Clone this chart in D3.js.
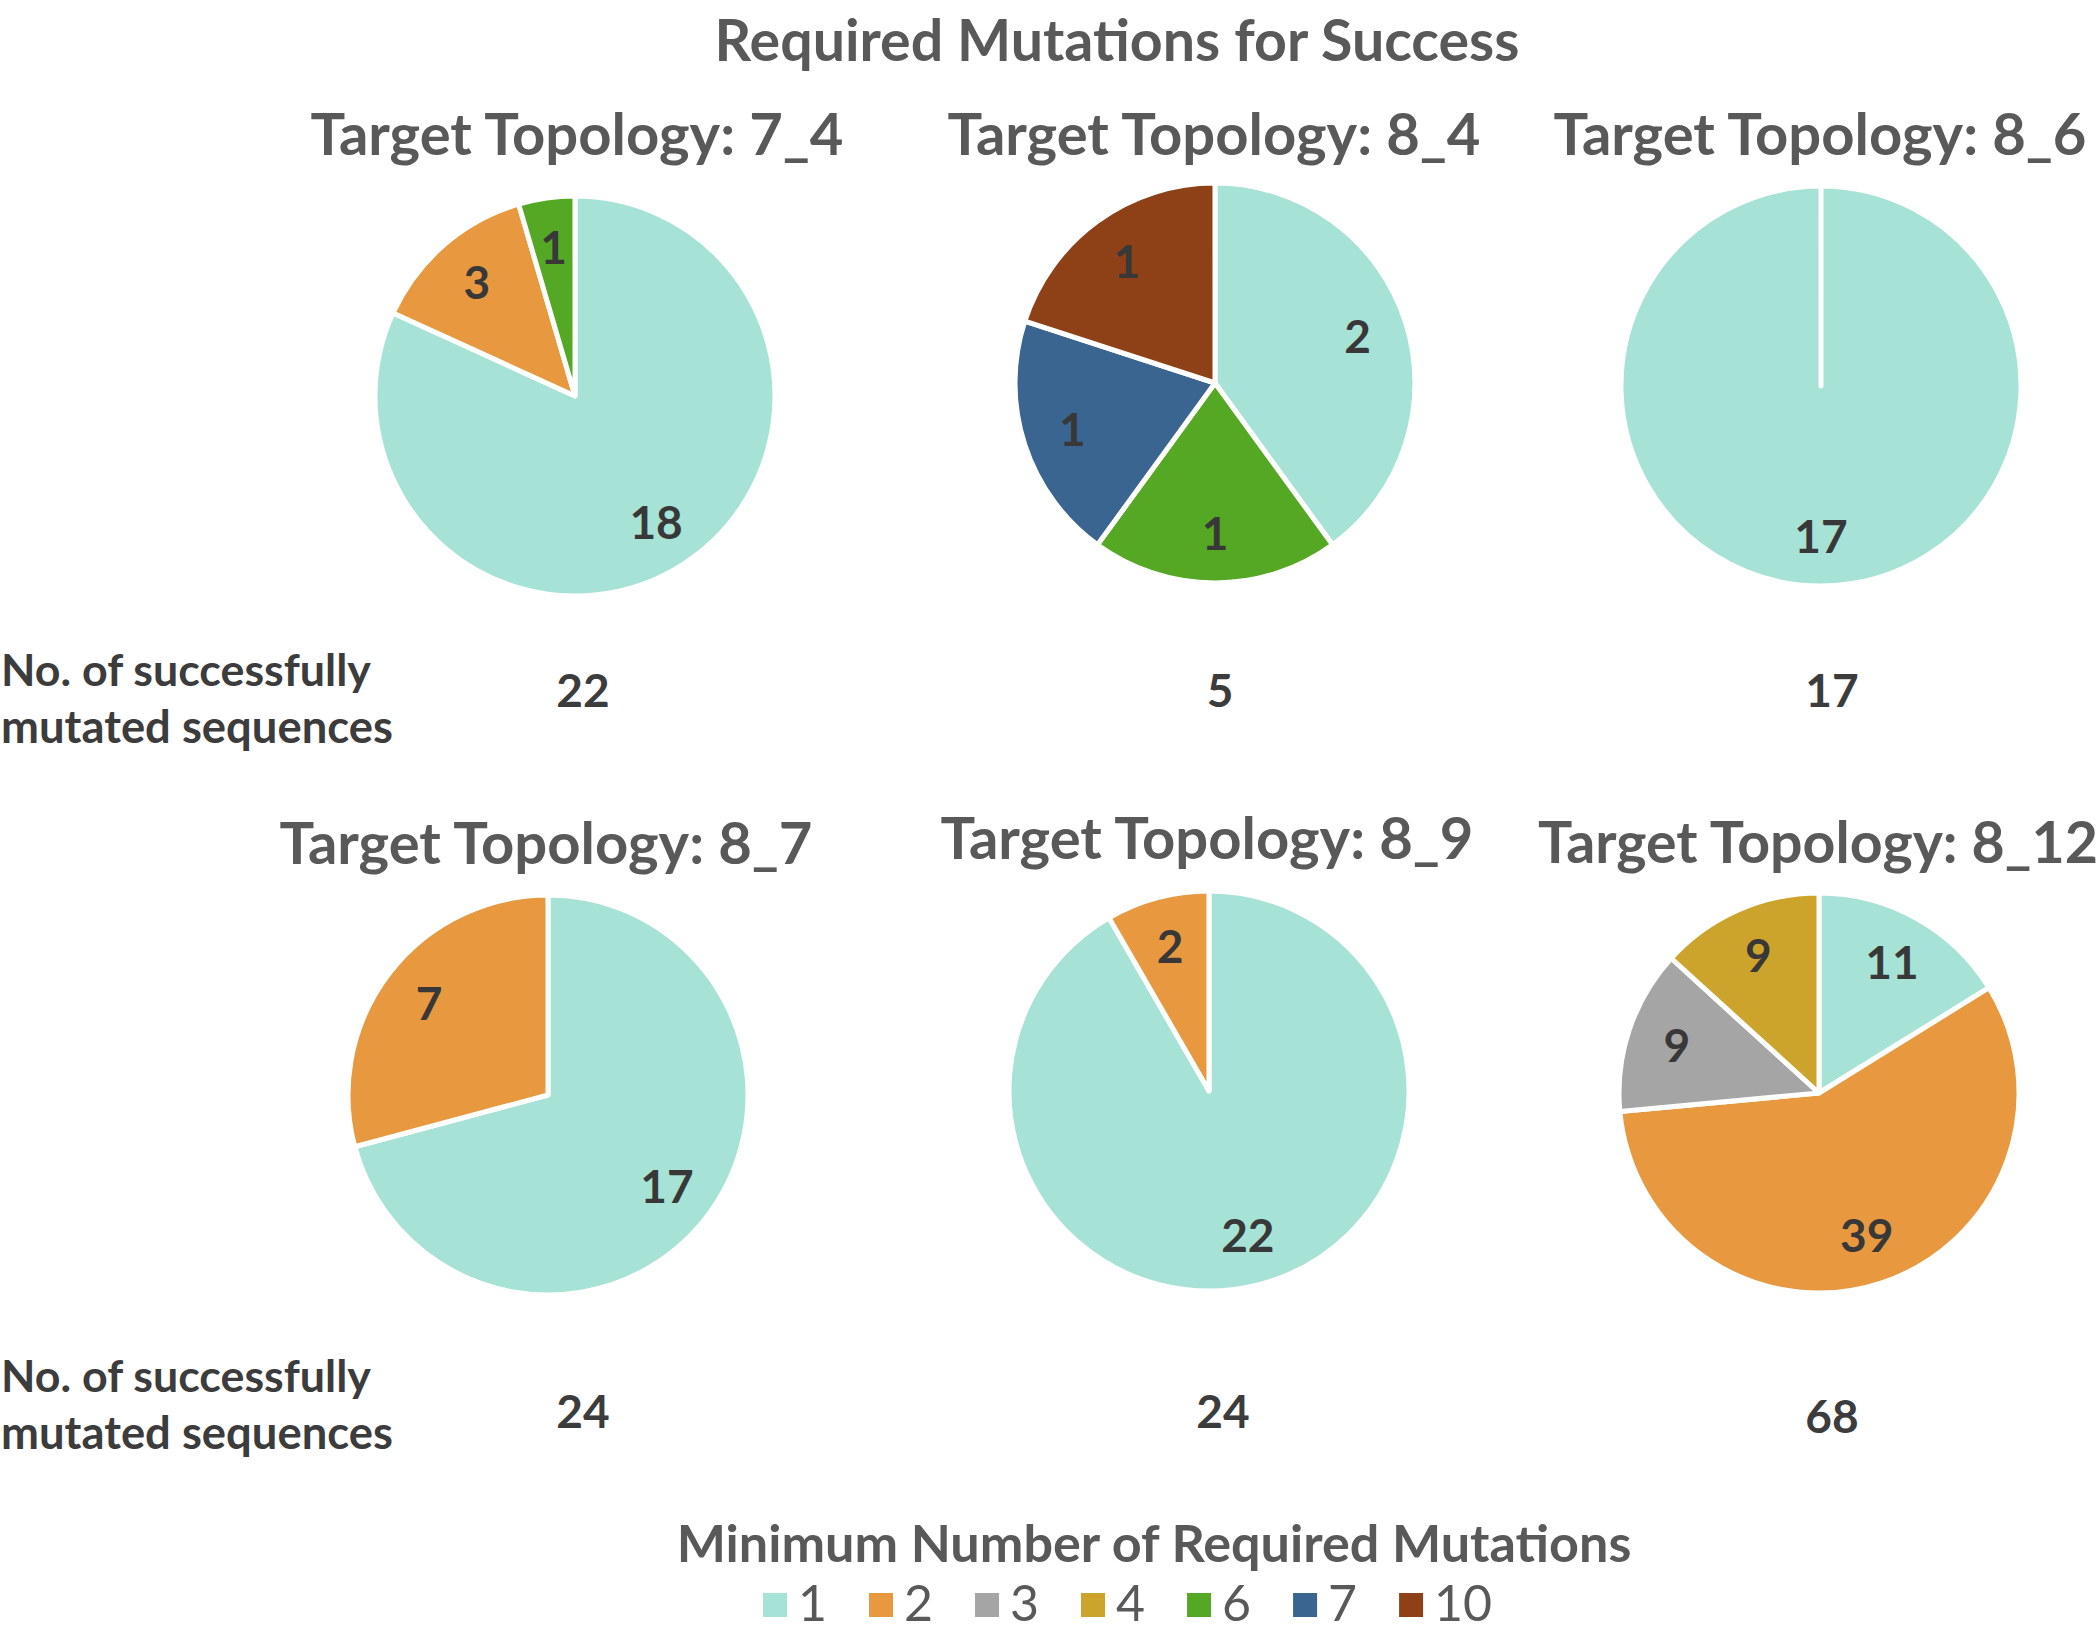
<!DOCTYPE html>
<html><head><meta charset="utf-8">
<script src="https://cdn.jsdelivr.net/npm/d3@7"></script>
<style>body{margin:0;background:#fff} svg{display:block}</style>
</head><body>
<script>
// ---- data ----
const categories = ["1", "2", "3", "4", "6", "7", "10"];
const topologies = ["7_4", "8_4", "8_6", "8_7", "8_9", "8_12"];
const counts_7_4  = [18, 3, 0, 0, 1, 0, 0];
const counts_8_4  = [2, 0, 0, 0, 1, 1, 1];
const counts_8_6  = [17, 0, 0, 0, 0, 0, 0];
const counts_8_7  = [17, 7, 0, 0, 0, 0, 0];
const counts_8_9  = [22, 2, 0, 0, 0, 0, 0];
const counts_8_12 = [11, 39, 9, 9, 0, 0, 0];
const totals = [22, 5, 17, 24, 24, 68];
const rowLabel = ["No. of successfully", "mutated sequences"];
const chartTitle = "Required Mutations for Success";
const legendTitle = "Minimum Number of Required Mutations";

const seriesByTopology = [counts_7_4, counts_8_4, counts_8_6, counts_8_7, counts_8_9, counts_8_12];

// ---- layout ----
const W = 2100, H = 1633;
const panels = [
  {cx: 575, cy: 396, tx: 577, ty: 155, totX: 583, totY: 707},
  {cx: 1215, cy: 383, tx: 1214, ty: 155, totX: 1220, totY: 707},
  {cx: 1821, cy: 386, tx: 1820, ty: 155, totX: 1832, totY: 707},
  {cx: 548, cy: 1095, tx: 546, ty: 864, totX: 583, totY: 1428},
  {cx: 1209, cy: 1091, tx: 1207, ty: 859, totX: 1223, totY: 1428},
  {cx: 1819, cy: 1093, tx: 1818, ty: 863, totX: 1832, totY: 1433}
];
const R = 200;
const FONT = "Lato, 'Open Sans', sans-serif";

const color = d3.scaleOrdinal()
  .domain(categories)
  .range(["#a6e3d6", "#e8993f", "#a5a5a5", "#cca42c", "#55a823", "#3a6591", "#8e4117"]);

const svg = d3.select("body").append("svg")
  .attr("width", W).attr("height", H)
  .style("background", "#fff");

function fit(sel, w) {
  const fs = parseFloat(sel.attr("font-size"));
  const l = sel.node().getComputedTextLength();
  sel.attr("font-size", fs * w / l);
  return sel;
}

// main title
fit(svg.append("text")
  .attr("x", 1117).attr("y", 61)
  .attr("text-anchor", "middle")
  .attr("font-family", FONT).attr("font-weight", 700)
  .attr("font-size", 54).attr("fill", "#595959")
  .text(chartTitle), 805);

const pie = d3.pie().sort(null).value(d => d.v).endAngle(2 * Math.PI - 1e-4);
const arc = d3.arc().innerRadius(0).outerRadius(R);
const labelArc = d3.arc().innerRadius(R * 0.75).outerRadius(R * 0.75);

topologies.forEach((t, i) => {
  const p = panels[i];
  const data = categories.map((c, j) => ({c, v: seriesByTopology[i][j]})).filter(d => d.v > 0);
  const g = svg.append("g").attr("transform", `translate(${p.cx},${p.cy})`);
  const arcs = pie(data);
  g.selectAll("path").data(arcs).join("path")
    .attr("d", arc)
    .attr("fill", d => color(d.data.c))
    .attr("stroke", "#fff")
    .attr("stroke-width", 5)
    .attr("stroke-linejoin", "round");
  g.selectAll("text").data(arcs).join("text")
    .attr("transform", d => `translate(${labelArc.centroid(d)})`)
    .attr("text-anchor", "middle")
    .attr("dy", "0.36em")
    .attr("font-family", FONT).attr("font-weight", 700)
    .attr("font-size", 46).attr("fill", "#383838")
    .text(d => d.data.v);

  // subtitle
  fit(svg.append("text")
    .attr("x", p.tx).attr("y", p.ty)
    .attr("text-anchor", "middle")
    .attr("font-family", FONT).attr("font-weight", 700)
    .attr("font-size", 56).attr("fill", "#595959")
    .text("Target Topology: " + t), t.length > 3 ? 560 : 533);

  // total
  svg.append("text")
    .attr("x", p.totX).attr("y", p.totY)
    .attr("text-anchor", "middle")
    .attr("font-family", FONT).attr("font-weight", 700)
    .attr("font-size", 46).attr("fill", "#3c3c3c")
    .text(totals[i]);
});

// row labels
[[686, 743], [1392, 1449]].forEach(ys => {
  rowLabel.forEach((s, k) => {
    fit(svg.append("text")
      .attr("x", 1).attr("y", ys[k])
      .attr("font-family", FONT).attr("font-weight", 700)
      .attr("font-size", 40).attr("fill", "#3c3c3c")
      .text(s), k === 0 ? 370 : 392);
  });
});

// legend title
fit(svg.append("text")
  .attr("x", 1154).attr("y", 1562)
  .attr("text-anchor", "middle")
  .attr("font-family", FONT).attr("font-weight", 700)
  .attr("font-size", 52).attr("fill", "#595959")
  .text(legendTitle), 955);

// legend items
let lx = 763;
const lg = svg.append("g");
categories.forEach(c => {
  lg.append("rect")
    .attr("x", lx).attr("y", 1593)
    .attr("width", 24).attr("height", 24)
    .attr("fill", color(c));
  const tx = lg.append("text")
    .attr("x", lx + 35).attr("y", 1621)
    .attr("font-family", FONT).attr("font-weight", 400)
    .attr("font-size", 50).attr("fill", "#595959")
    .text(c);
  lx += 35 + tx.node().getComputedTextLength() + 42;
});
</script>
</body></html>
